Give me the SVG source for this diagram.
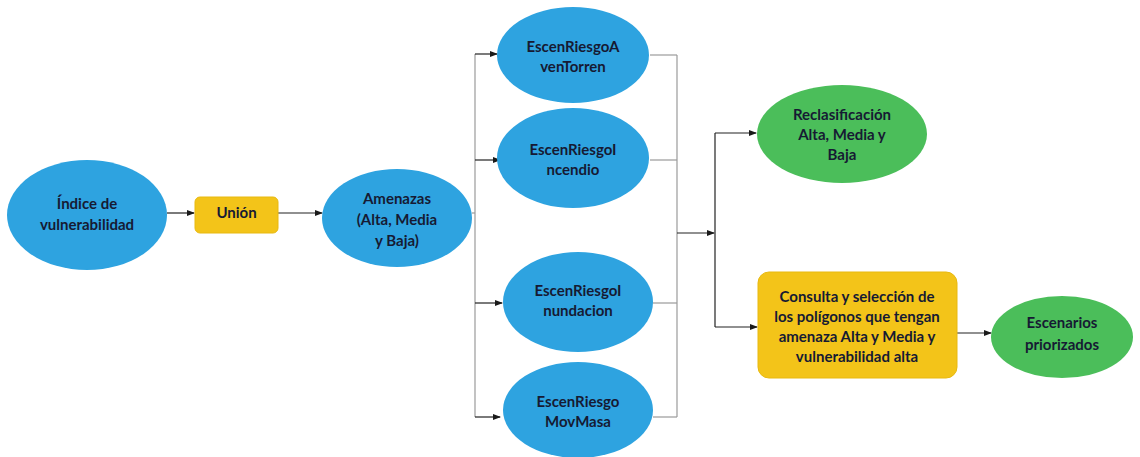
<svg xmlns="http://www.w3.org/2000/svg" width="1140" height="457" viewBox="0 0 1140 457">
<defs>
<marker id="ah" markerWidth="8" markerHeight="6" refX="7" refY="3" orient="auto" markerUnits="userSpaceOnUse">
<path d="M0,0 L8,3 L0,6 z" fill="#1a1a1a"/>
</marker>
<style>
.blue{fill:#2ea3e0;}
.green{fill:#4bbe5a;}
.yellow{fill:#f3c419;stroke:#e8b910;stroke-width:1;}
.t{font-family:Lato,"Open Sans","Liberation Sans",sans-serif;font-weight:bold;font-size:15px;fill:#161a33;text-anchor:middle;}
.c{fill:none;stroke:#222;stroke-width:1.2;}
.g{fill:none;stroke:#9a9a9a;stroke-width:1.2;}
</style>
</defs>
<rect width="1140" height="457" fill="#ffffff"/>
<g id="connectors">
<line class="c" x1="167" y1="213" x2="194" y2="213" marker-end="url(#ah)"/>
<line class="c" x1="278" y1="213" x2="322" y2="213" marker-end="url(#ah)"/>
<polyline class="g" points="472,213 475,213"/>
<line class="g" x1="475" y1="54" x2="475" y2="417"/>
<line class="c" x1="475" y1="54" x2="497" y2="54" marker-end="url(#ah)"/>
<line class="c" x1="475" y1="160" x2="500" y2="160" marker-end="url(#ah)"/>
<line class="c" x1="475" y1="303" x2="502" y2="303" marker-end="url(#ah)"/>
<line class="c" x1="475" y1="417" x2="500" y2="417" marker-end="url(#ah)"/>
<line class="g" x1="650" y1="55" x2="677" y2="55"/>
<line class="g" x1="650" y1="160" x2="677" y2="160"/>
<line class="g" x1="653" y1="303" x2="677" y2="303"/>
<line class="g" x1="653" y1="417" x2="677" y2="417"/>
<line class="g" x1="677" y1="55" x2="677" y2="417"/>
<line class="c" x1="677" y1="233" x2="714" y2="233" marker-end="url(#ah)"/>
<line class="c" x1="715" y1="133" x2="715" y2="327"/>
<line class="c" x1="715" y1="133" x2="756" y2="133" marker-end="url(#ah)"/>
<line class="c" x1="715" y1="327" x2="757" y2="327" marker-end="url(#ah)"/>
<line class="c" x1="957" y1="333" x2="991" y2="333" marker-end="url(#ah)"/>
</g>
<g id="indice">
<ellipse class="blue" cx="87" cy="215" rx="80" ry="55"/>
<text class="t" x="87" y="209">Índice de</text>
<text class="t" x="87" y="230">vulnerabilidad</text>
</g>
<g id="union">
<rect class="yellow" x="195" y="197" width="83" height="36" rx="5"/>
<text class="t" x="236.5" y="218">Unión</text>
</g>
<g id="amenazas">
<ellipse class="blue" cx="397" cy="218" rx="75" ry="49"/>
<text class="t" x="397" y="204">Amenazas</text>
<text class="t" x="397" y="225">(Alta, Media</text>
<text class="t" x="397" y="246">y Baja)</text>
</g>
<g id="aventorren">
<ellipse class="blue" cx="573" cy="55" rx="76" ry="48"/>
<text class="t" x="573" y="52">EscenRiesgoA</text>
<text class="t" x="573" y="72">venTorren</text>
</g>
<g id="incendio">
<ellipse class="blue" cx="573" cy="158" rx="76" ry="50"/>
<text class="t" x="573" y="155">EscenRiesgoI</text>
<text class="t" x="573" y="175">ncendio</text>
</g>
<g id="inundacion">
<ellipse class="blue" cx="578" cy="302" rx="75" ry="50"/>
<text class="t" x="578" y="296">EscenRiesgoI</text>
<text class="t" x="578" y="316">nundacion</text>
</g>
<g id="movmasa">
<ellipse class="blue" cx="578" cy="410" rx="75" ry="48"/>
<text class="t" x="578" y="407">EscenRiesgo</text>
<text class="t" x="578" y="427">MovMasa</text>
</g>
<g id="reclasificacion">
<ellipse class="green" cx="842" cy="134" rx="85" ry="49"/>
<text class="t" x="842" y="120">Reclasificación</text>
<text class="t" x="842" y="140">Alta, Media y</text>
<text class="t" x="842" y="160">Baja</text>
</g>
<g id="consulta">
<rect class="yellow" x="758" y="272" width="199" height="106" rx="11"/>
<text class="t" x="857" y="302">Consulta y selección de</text>
<text class="t" x="857" y="322">los polígonos que tengan</text>
<text class="t" x="857" y="342">amenaza Alta y Media y</text>
<text class="t" x="857" y="362">vulnerabilidad alta</text>
</g>
<g id="escenarios">
<ellipse class="green" cx="1062" cy="337" rx="71" ry="41"/>
<text class="t" x="1062" y="328">Escenarios</text>
<text class="t" x="1062" y="350">priorizados</text>
</g>
</svg>
